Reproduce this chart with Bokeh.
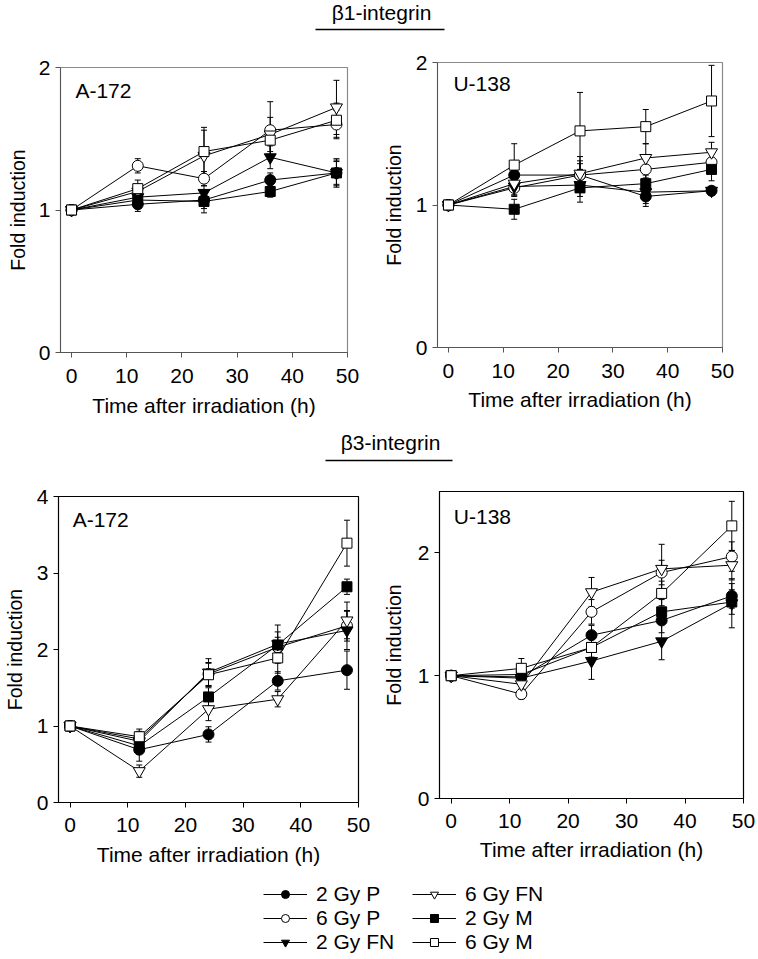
from bokeh.plotting import figure
from bokeh.models import (Range1d, FixedTicker, Whisker, ColumnDataSource, Label,
                          Legend, LegendItem, TeeHead)
from bokeh.layouts import column, row
from bokeh.embed import file_html
from bokeh.resources import INLINE

# ---------------- data ----------------
time_h = [0, 12, 24, 36, 48]
series_names = ["2 Gy P", "6 Gy P", "2 Gy FN", "6 Gy FN", "2 Gy M", "6 Gy M"]
x_ticks = [0, 10, 20, 30, 40, 50]

# beta1-integrin, A-172 (order follows series_names)
b1_a172_mean = [
    [1.0, 1.04, 1.07, 1.21, 1.26],
    [1.0, 1.31, 1.22, 1.56, 1.60],
    [1.0, 1.09, 1.12, 1.37, 1.26],
    [1.0, 1.13, 1.38, 1.53, 1.72],
    [1.0, 1.07, 1.06, 1.13, 1.26],
    [1.0, 1.15, 1.41, 1.49, 1.63],
]
b1_a172_err = [
    [0.01, 0.05, 0.06, 0.05, 0.09],
    [0.01, 0.05, 0.05, 0.20, 0.10],
    [0.01, 0.04, 0.05, 0.08, 0.10],
    [0.01, 0.05, 0.18, 0.12, 0.19],
    [0.01, 0.05, 0.08, 0.04, 0.08],
    [0.01, 0.06, 0.17, 0.10, 0.12],
]
# beta1-integrin, U-138
b1_u138_mean = [
    [1.0, 1.21, 1.21, 1.06, 1.10],
    [1.0, 1.12, 1.21, 1.25, 1.30],
    [1.0, 1.13, 1.14, 1.09, 1.10],
    [1.0, 1.15, 1.22, 1.33, 1.37],
    [1.0, 0.97, 1.12, 1.15, 1.25],
    [1.0, 1.28, 1.52, 1.55, 1.73],
]
b1_u138_err = [
    [0.01, 0.03, 0.08, 0.05, 0.03],
    [0.01, 0.05, 0.10, 0.10, 0.08],
    [0.01, 0.07, 0.08, 0.10, 0.03],
    [0.01, 0.08, 0.12, 0.10, 0.07],
    [0.01, 0.07, 0.10, 0.06, 0.08],
    [0.01, 0.15, 0.27, 0.12, 0.25],
]
# beta3-integrin, A-172
b3_a172_mean = [
    [1.0, 0.69, 0.89, 1.59, 1.73],
    [1.0, 0.83, 1.68, 2.03, 2.31],
    [1.0, 0.80, 1.70, 2.07, 2.25],
    [1.0, 0.41, 1.22, 1.35, 2.38],
    [1.0, 0.74, 1.38, 2.06, 2.82],
    [1.0, 0.86, 1.67, 1.89, 3.39],
]
b3_a172_err = [
    [0.03, 0.15, 0.10, 0.12, 0.25],
    [0.03, 0.10, 0.15, 0.20, 0.20],
    [0.03, 0.10, 0.18, 0.25, 0.25],
    [0.03, 0.08, 0.15, 0.10, 0.24],
    [0.03, 0.10, 0.12, 0.10, 0.10],
    [0.03, 0.10, 0.15, 0.20, 0.30],
]
# beta3-integrin, U-138
b3_u138_mean = [
    [1.0, 0.99, 1.33, 1.45, 1.65],
    [1.0, 0.85, 1.52, 1.84, 1.97],
    [1.0, 0.98, 1.12, 1.28, 1.59],
    [1.0, 0.93, 1.68, 1.87, 1.90],
    [1.0, 1.01, 1.23, 1.52, 1.60],
    [1.0, 1.06, 1.23, 1.67, 2.22],
]
b3_u138_err = [
    [0.02, 0.04, 0.08, 0.10, 0.10],
    [0.02, 0.04, 0.10, 0.10, 0.12],
    [0.02, 0.04, 0.15, 0.15, 0.20],
    [0.02, 0.04, 0.12, 0.20, 0.12],
    [0.02, 0.04, 0.08, 0.10, 0.10],
    [0.02, 0.08, 0.08, 0.10, 0.20],
]

# ---------------- styles ----------------
FONT = "Liberation Sans"
FS = "21px"
FS_Y = "19.5px"
markers = ["circle", "circle", "inverted_triangle", "inverted_triangle", "square", "square"]
fills = ["black", "white", "black", "white", "black", "white"]
msizes = [11, 11, 12, 12, 10, 10]


def make_panel(means, errs, y_max, y_ticks, cell, dark, width, height,
               bl, bt, br, bb, lab_x, lab_y, ylab_standoff, xl_sd, xa_sd):
    frame_col = "black" if dark else "#8a8a8a"
    axis_col = "black" if dark else "#555555"
    p = figure(width=width, height=height, x_range=Range1d(-2, 50),
               y_range=Range1d(0, y_max), output_backend="svg", title=None,
               toolbar_location=None, min_border_left=bl, min_border_top=bt,
               min_border_right=br, min_border_bottom=bb)
    p.xgrid.visible = False
    p.ygrid.visible = False
    p.outline_line_color = frame_col
    p.outline_line_width = 1.2
    p.xaxis.ticker = FixedTicker(ticks=x_ticks)
    p.yaxis.ticker = FixedTicker(ticks=y_ticks)
    p.xaxis.axis_label = "Time after irradiation (h)"
    p.yaxis.axis_label = "Fold induction"
    for ax in p.axis:
        ax.axis_label_text_font = FONT
        ax.axis_label_text_font_style = "normal"
        ax.axis_label_text_color = "black"
        ax.major_label_text_font = FONT
        ax.major_label_text_font_size = FS
        ax.major_label_text_color = "black"
        ax.axis_line_color = axis_col
        ax.major_tick_line_color = axis_col
        ax.major_tick_in = 0
        ax.major_tick_out = 5
        ax.minor_tick_line_color = None
        ax.major_label_standoff = 5
    p.xaxis.axis_label_text_font_size = FS
    p.yaxis.axis_label_text_font_size = FS_Y
    p.xaxis.major_label_standoff = xl_sd
    p.xaxis.axis_label_standoff = xa_sd
    p.yaxis.axis_label_standoff = ylab_standoff

    for i in range(len(series_names)):
        m = means[i]
        e = errs[i]
        src = ColumnDataSource(dict(x=time_h, lo=[a - b for a, b in zip(m, e)],
                                    hi=[a + b for a, b in zip(m, e)]))
        w = Whisker(source=src, base="x", upper="hi", lower="lo",
                    line_color="black", line_width=1,
                    upper_head=TeeHead(size=6, line_color="black", line_width=1),
                    lower_head=TeeHead(size=6, line_color="black", line_width=1))
        p.add_layout(w)
    for i in range(len(series_names)):
        p.line(time_h, means[i], line_color="black", line_width=1)
    for i in range(len(series_names)):
        p.scatter(time_h, means[i], marker=markers[i], size=msizes[i],
                  fill_color=fills[i], line_color="black", line_width=1)
    p.add_layout(Label(x=lab_x, y=lab_y, text=cell, text_font=FONT,
                       text_font_size=FS, text_baseline="middle",
                       text_color="black"))
    return p


def header(text, width, height, tx, ty, lx0, lx1, ly):
    h = figure(width=width, height=height, x_range=Range1d(0, width),
               y_range=Range1d(0, height), output_backend="svg", title=None,
               toolbar_location=None, min_border=0,
               x_axis_location=None, y_axis_location=None)
    h.xgrid.visible = False
    h.ygrid.visible = False
    h.outline_line_color = None
    h.add_layout(Label(x=tx, y=ty, text=text, text_font=FONT, text_font_size=FS,
                       text_align="center", text_baseline="middle",
                       text_color="black"))
    h.segment(x0=[lx0], y0=[ly], x1=[lx1], y1=[ly], line_color="black",
              line_width=1.6)
    return h


W = 757
h1 = header("\u03b21-integrin", W, 50, 381, 38.5, 315, 444, 21)
p1 = make_panel(b1_a172_mean, b1_a172_err, 2, [0, 1, 2], "A-172", False,
                379, 379, 60, 17, 32, 77, 0.7, 1.84, 7, 11, 8)
p2 = make_panel(b1_u138_mean, b1_u138_err, 2, [0, 1, 2], "U-138", False,
                378, 379, 57, 12, 35, 82, 0.9, 1.85, 8, 11, 7)
h2 = header("\u03b23-integrin", W, 51, 390, 38, 325, 452, 20)
p3 = make_panel(b3_a172_mean, b3_a172_err, 4, [0, 1, 2, 3, 4], "A-172", True,
                379, 396, 52, 16, 21, 74, 0.45, 3.70, 8, 10, 8)
p4 = make_panel(b3_u138_mean, b3_u138_err, 2.5, [0, 1, 2], "U-138", True,
                378, 396, 58, 11, 14, 78, 0.45, 2.30, 10, 10, 7)

# legend figure
LH = 82
lg = figure(width=W, height=LH, x_range=Range1d(0, 1), y_range=Range1d(0, 1),
            output_backend="svg", toolbar_location=None, min_border=0, title=None,
            x_axis_location=None, y_axis_location=None)
lg.xgrid.visible = False
lg.ygrid.visible = False
lg.outline_line_color = None
items = []
for i, name in enumerate(series_names):
    # renderers kept outside the visible range: they only feed the legend glyphs
    lr = lg.line(x=[5, 6], y=[5, 5], line_color="black", line_width=1)
    sr = lg.scatter(x=[5], y=[5], marker=markers[i], size=msizes[i],
                    fill_color=fills[i], line_color="black", line_width=1)
    items.append(LegendItem(label=name, renderers=[lr, sr]))
for k, xloc in enumerate([263, 412]):
    leg = Legend(items=items[3 * k:3 * k + 3], location=(xloc, 4),
                 orientation="vertical", glyph_width=44, glyph_height=20,
                 label_standoff=9, spacing=0, padding=0, margin=0,
                 label_height=20,
                 label_text_font=FONT, label_text_font_size=FS,
                 label_text_color="black", border_line_color=None,
                 background_fill_alpha=0)
    lg.add_layout(leg)

# each panel wrapped in its own column so that frames are not aligned across a row
layout = column(h1, row(column(p1), column(p2)), h2,
                row(column(p3), column(p4)), lg)
open("out.html", "w").write(file_html(layout, INLINE))
